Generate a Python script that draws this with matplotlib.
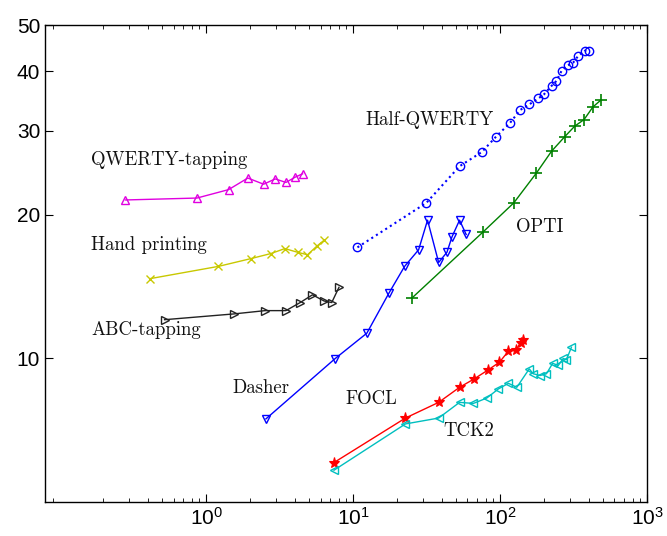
import matplotlib
matplotlib.use("Agg")
import matplotlib.pyplot as plt
from matplotlib.ticker import LogLocator, NullFormatter, FixedLocator, FixedFormatter

plt.rcParams['font.family'] = ['Liberation Sans', 'DejaVu Sans']
plt.rcParams['mathtext.fontset'] = 'custom'
plt.rcParams['mathtext.rm'] = 'Liberation Sans'
plt.rcParams['mathtext.default'] = 'regular'

# datos
qwerty_x = [0.282, 0.865, 1.42, 1.92, 2.46, 2.95, 3.49, 4.03, 4.53]
qwerty_y = [21.5, 21.7, 22.6, 23.9, 23.2, 23.8, 23.4, 24.0, 24.4]

hand_x = [0.413, 1.21, 2.02, 2.76, 3.43, 4.19, 4.89, 5.66, 6.34]
hand_y = [14.7, 15.6, 16.2, 16.6, 17.0, 16.7, 16.5, 17.2, 17.7]

abc_x = [0.521, 1.54, 2.52, 3.49, 4.36, 5.29, 6.34, 7.15, 8.01]
abc_y = [12.06, 12.4, 12.6, 12.6, 13.1, 13.6, 13.2, 13.1, 14.1]

dasher_x = [2.55, 7.53, 12.4, 17.5, 22.4, 27.9, 32.1, 38.2, 43.5, 47.1, 53.0, 58.8]
dasher_y = [7.47, 9.99, 11.3, 13.7, 15.6, 16.9, 19.5, 15.9, 16.7, 18.0, 19.5, 18.2]

half_x = [10.7, 31.5, 53.0, 75.1, 94.0, 117, 137, 158, 182, 199, 224, 242,
          262, 290, 314, 340, 377, 403]
half_y = [17.1, 21.2, 25.3, 27.1, 29.2, 31.2, 33.2, 34.1, 35.1, 35.8, 37.3, 38.2,
          40.1, 41.2, 41.7, 43.1, 44.2, 44.2]

opti_x = [25.2, 76.3, 124, 177, 224, 276, 322, 373, 429, 484]
opti_y = [13.4, 18.4, 21.2, 24.5, 27.2, 29.2, 30.7, 31.7, 33.7, 34.8]

focl_x = [7.41, 22.7, 38.2, 53.0, 66.6, 83.3, 99, 114, 128, 138, 144]
focl_y = [6.05, 7.50, 8.09, 8.70, 9.06, 9.47, 9.82, 10.36, 10.4, 10.8, 10.95]

tck2_x = [7.41, 22.7, 38.2, 53.0, 65.9, 81.2, 97.3, 114, 130, 158, 168, 187,
          207, 228, 249, 269, 283, 306]
tck2_y = [5.83, 7.29, 7.50, 8.09, 8.05, 8.26, 8.63, 8.87, 8.70, 9.51, 9.29, 9.21,
          9.29, 9.77, 9.67, 10.0, 9.94, 10.56]

etiquetas = ["QWERTY-tapping", "Hand printing", "ABC-tapping", "Half-QWERTY",
             "OPTI", "Dasher", "FOCL", "TCK2"]
etiq_x = [0.164, 0.164, 0.166, 12.2, 128, 1.52, 8.9, 41.1]
etiq_y = [26.1, 17.3, 11.5, 31.7, 18.9, 8.65, 8.24, 7.05]

xticks = [1, 10, 100, 1000]
yticks = [10, 20, 30, 40, 50]

fig = plt.figure(figsize=(6.67, 5.36), dpi=100)
ax = fig.add_axes([0.0675, 0.0634, 0.9025, 0.8896])

ms = 6
ax.plot(qwerty_x, qwerty_y, '-^', color='#e000e0', lw=1, ms=ms, mfc='none')
ax.plot(hand_x, hand_y, '-x', color='#c8c800', lw=1, ms=ms)
ax.plot(abc_x, abc_y, '->', color='#222222', lw=1, ms=ms, mfc='none')
ax.plot(dasher_x, dasher_y, '-v', color='#0000ff', lw=1, ms=ms, mfc='none')
ax.plot(half_x, half_y, ':o', color='#0000ff', lw=1.5, ms=ms, mfc='none')
ax.plot(opti_x, opti_y, '-+', color='#008000', lw=1, ms=9, mew=1.2)
ax.plot(focl_x, focl_y, '-*', color='#ff0000', lw=1, ms=8, mew=0.8)
ax.plot(tck2_x, tck2_y, '-<', color='#00bfbf', lw=1, ms=ms, mfc='none')

for t, x, y in zip(etiquetas, etiq_x, etiq_y):
    ax.text(x, y, t, fontfamily='cmr10', fontsize=13.5, ha='left', va='center',
            color='#111111')

ax.set_xscale('log')
ax.set_yscale('log')
ax.set_xlim(0.08, 1000)
ax.set_ylim(5, 50)

ax.xaxis.set_major_locator(FixedLocator(xticks))
ax.xaxis.set_major_formatter(FixedFormatter(['$10^{%d}$' % i for i in range(4)]))
ax.xaxis.set_minor_locator(LogLocator(base=10, subs=range(2, 10), numticks=20))
ax.xaxis.set_minor_formatter(NullFormatter())
ax.yaxis.set_major_locator(FixedLocator(yticks))
ax.yaxis.set_major_formatter(FixedFormatter([str(v) for v in yticks]))
ax.yaxis.set_minor_locator(FixedLocator([]))
ax.yaxis.set_minor_formatter(NullFormatter())

ax.tick_params(which='both', direction='in', top=True, right=True, labelsize=15)
ax.tick_params(which='major', length=6)
ax.tick_params(which='minor', length=3)
for s in ax.spines.values():
    s.set_linewidth(1)

fig.savefig('out.png', dpi=100)
